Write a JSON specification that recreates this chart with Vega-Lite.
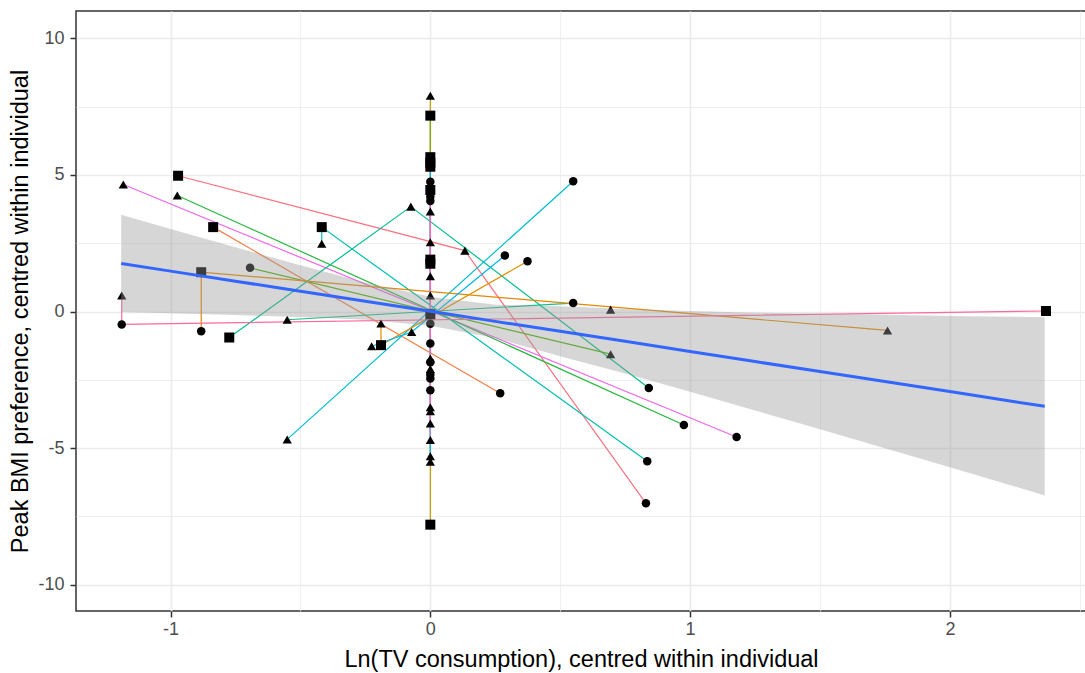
{
  "$schema": "https://vega.github.io/schema/vega-lite/v6.json",
  "width": 1010,
  "height": 600,
  "autosize": {"type": "none"},
  "padding": {"left": 76, "top": 11, "right": 0, "bottom": 62},
  "background": "white",
  "config": {
    "view": {"stroke": "#333333", "strokeWidth": 1.5},
    "font": "Liberation Sans",
    "axis": {
      "domain": false,
      "gridColor": "#EBEBEB",
      "tickColor": "#333333",
      "tickWidth": 1.5,
      "tickSize": 6,
      "labelFont": "Liberation Sans",
      "labelFontSize": 18,
      "labelColor": "#4D4D4D",
      "titleFont": "Liberation Sans",
      "titleFontSize": 23.5,
      "titleFontWeight": "normal",
      "titleColor": "#000000",
      "labelOverlap": false,
      "labelFlush": false,
      "labelBound": false
    }
  },
  "datasets": {
    "pts": [
      {"id": "A", "x": -0.971, "y": 4.97, "s": "square", "o": 1},
      {"id": "A", "x": 0.133, "y": 2.23, "s": "triangle", "o": 2},
      {"id": "A", "x": 0.83, "y": -7.02, "s": "circle", "o": 3},
      {"id": "B", "x": -1.182, "y": 4.65, "s": "triangle", "o": 1},
      {"id": "B", "x": 1.179, "y": -4.59, "s": "circle", "o": 2},
      {"id": "C", "x": -0.974, "y": 4.25, "s": "triangle", "o": 1},
      {"id": "C", "x": 0.976, "y": -4.15, "s": "circle", "o": 2},
      {"id": "D", "x": -0.836, "y": 3.09, "s": "square", "o": 1},
      {"id": "D", "x": 0.269, "y": -2.99, "s": "circle", "o": 2},
      {"id": "E", "x": -0.418, "y": 2.48, "s": "triangle", "o": 1},
      {"id": "E", "x": -0.418, "y": 3.09, "s": "square", "o": 2},
      {"id": "E", "x": 0.835, "y": -5.48, "s": "circle", "o": 3},
      {"id": "F", "x": -0.774, "y": -0.95, "s": "square", "o": 1},
      {"id": "F", "x": -0.075, "y": 3.84, "s": "triangle", "o": 2},
      {"id": "F", "x": 0.841, "y": -2.8, "s": "circle", "o": 3},
      {"id": "G", "x": -0.694, "y": 1.6, "s": "circle", "o": 1},
      {"id": "G", "x": 0.694, "y": -1.56, "s": "triangle", "o": 2},
      {"id": "H", "x": -0.551, "y": -4.68, "s": "triangle", "o": 1},
      {"id": "H", "x": 0.55, "y": 4.77, "s": "circle", "o": 2},
      {"id": "I", "x": -0.551, "y": -0.3, "s": "triangle", "o": 1},
      {"id": "I", "x": 0.55, "y": 0.31, "s": "circle", "o": 2},
      {"id": "J", "x": -0.882, "y": -0.72, "s": "circle", "o": 1},
      {"id": "J", "x": -0.882, "y": 1.44, "s": "square", "o": 2},
      {"id": "J", "x": 1.76, "y": -0.69, "s": "triangle", "o": 3},
      {"id": "K", "x": -1.188, "y": 0.59, "s": "triangle", "o": 1},
      {"id": "K", "x": -1.188, "y": -0.47, "s": "circle", "o": 2},
      {"id": "K", "x": 2.37, "y": 0.02, "s": "square", "o": 3},
      {"id": "L", "x": -0.19, "y": -0.44, "s": "triangle", "o": 1},
      {"id": "L", "x": -0.19, "y": -1.23, "s": "square", "o": 2},
      {"id": "L", "x": 0.374, "y": 1.84, "s": "circle", "o": 3},
      {"id": "M", "x": -0.226, "y": -1.27, "s": "triangle", "o": 1},
      {"id": "M", "x": -0.072, "y": -0.75, "s": "triangle", "o": 2},
      {"id": "M", "x": 0.287, "y": 2.05, "s": "circle", "o": 3},
      {"id": "N", "x": 0.694, "y": 0.07, "s": "triangle", "o": 1},
      {"id": "Z1", "x": 0, "y": 7.9, "s": "triangle", "o": 1},
      {"id": "Z1", "x": 0, "y": -7.8, "s": "square", "o": 2},
      {"id": "Z2", "x": 0, "y": 7.17, "s": "square", "o": 1},
      {"id": "Z2", "x": 0, "y": 5.65, "s": "square", "o": 2},
      {"id": "Z2", "x": 0, "y": 5.45, "s": "square", "o": 3},
      {"id": "Z2", "x": 0, "y": -5.3, "s": "triangle", "o": 4},
      {"id": "Z3", "x": 0, "y": 5.3, "s": "square", "o": 1},
      {"id": "Z3", "x": 0, "y": -5.5, "s": "triangle", "o": 2},
      {"id": "Z4", "x": 0, "y": 4.75, "s": "circle", "o": 1},
      {"id": "Z4", "x": 0, "y": 4.45, "s": "square", "o": 2},
      {"id": "Z4", "x": 0, "y": -4.7, "s": "triangle", "o": 3},
      {"id": "Z5", "x": 0, "y": 4.2, "s": "circle", "o": 1},
      {"id": "Z5", "x": 0, "y": 4.05, "s": "circle", "o": 2},
      {"id": "Z5", "x": 0, "y": 3.66, "s": "triangle", "o": 3},
      {"id": "Z5", "x": 0, "y": 2.54, "s": "triangle", "o": 4},
      {"id": "Z5", "x": 0, "y": 1.9, "s": "square", "o": 5},
      {"id": "Z5", "x": 0, "y": 1.75, "s": "square", "o": 6},
      {"id": "Z5", "x": 0, "y": 1.29, "s": "triangle", "o": 7},
      {"id": "Z5", "x": 0, "y": 0.59, "s": "triangle", "o": 8},
      {"id": "Z5", "x": 0, "y": -0.1, "s": "square", "o": 9},
      {"id": "Z5", "x": 0, "y": -0.45, "s": "circle", "o": 10},
      {"id": "Z5", "x": 0, "y": -1.17, "s": "circle", "o": 11},
      {"id": "Z5", "x": 0, "y": -1.72, "s": "triangle", "o": 12},
      {"id": "Z5", "x": 0, "y": -1.86, "s": "circle", "o": 13},
      {"id": "Z5", "x": 0, "y": -2.1, "s": "triangle", "o": 14},
      {"id": "Z5", "x": 0, "y": -2.3, "s": "circle", "o": 15},
      {"id": "Z5", "x": 0, "y": -2.45, "s": "circle", "o": 16},
      {"id": "Z5", "x": 0, "y": -2.88, "s": "circle", "o": 17},
      {"id": "Z5", "x": 0, "y": -3.5, "s": "triangle", "o": 18},
      {"id": "Z5", "x": 0, "y": -3.65, "s": "triangle", "o": 19},
      {"id": "Z5", "x": 0, "y": -4.1, "s": "triangle", "o": 20}
    ],
    "band": [
      {"x": -1.19, "fit": 1.76, "lo": -0.02, "hi": 3.54},
      {"x": -1.0, "fit": 1.48, "lo": -0.06, "hi": 3.02},
      {"x": -0.75, "fit": 1.11, "lo": -0.13, "hi": 2.35},
      {"x": -0.5, "fit": 0.745, "lo": -0.2, "hi": 1.69},
      {"x": -0.25, "fit": 0.38, "lo": -0.3, "hi": 1.06},
      {"x": 0, "fit": 0.01, "lo": -0.52, "hi": 0.54},
      {"x": 0.25, "fit": -0.36, "lo": -0.97, "hi": 0.25},
      {"x": 0.5, "fit": -0.725, "lo": -1.64, "hi": 0.19},
      {"x": 0.75, "fit": -1.09, "lo": -2.27, "hi": 0.09},
      {"x": 1.0, "fit": -1.46, "lo": -2.94, "hi": 0.02},
      {"x": 1.25, "fit": -1.83, "lo": -3.62, "hi": -0.04},
      {"x": 1.5, "fit": -2.195, "lo": -4.31, "hi": -0.08},
      {"x": 1.75, "fit": -2.56, "lo": -5.0, "hi": -0.12},
      {"x": 2.0, "fit": -2.93, "lo": -5.7, "hi": -0.16},
      {"x": 2.25, "fit": -3.3, "lo": -6.4, "hi": -0.19},
      {"x": 2.365, "fit": -3.47, "lo": -6.73, "hi": -0.21}
    ]
  },
  "layer": [
    {
      "data": {"name": "pts"},
      "mark": {"type": "line", "strokeWidth": 1.2},
      "encoding": {
        "x": {
          "field": "x", "type": "quantitative",
          "scale": {"domain": [-1.364, 2.524], "nice": false, "zero": false},
          "axis": {
            "title": "Ln(TV consumption), centred within individual",
            "values": [-1, -0.5, 0, 0.5, 1, 1.5, 2, 2.5],
            "labelExpr": "datum.value % 1 === 0 ? toString(datum.value) : ''",
            "gridWidth": {"condition": {"test": "datum.value % 1 !== 0", "value": 0.8}, "value": 1.6},
            "tickOpacity": {"condition": {"test": "datum.value % 1 !== 0", "value": 0}, "value": 1},
            "labelPadding": 3,
            "titlePadding": 9
          }
        },
        "y": {
          "field": "y", "type": "quantitative",
          "scale": {"domain": [-10.96, 11.0], "nice": false, "zero": false},
          "axis": {
            "title": "Peak BMI preference, centred within individual",
            "values": [-10, -7.5, -5, -2.5, 0, 2.5, 5, 7.5, 10],
            "labelExpr": "datum.value % 5 === 0 ? toString(datum.value) : ''",
            "gridWidth": {"condition": {"test": "datum.value % 5 !== 0", "value": 0.8}, "value": 1.6},
            "tickOpacity": {"condition": {"test": "datum.value % 5 !== 0", "value": 0}, "value": 1},
            "labelPadding": 6,
            "titlePadding": 5
          }
        },
        "color": {
          "field": "id", "type": "nominal", "legend": null,
          "scale": {
            "domain": ["A", "B", "C", "D", "E", "F", "G", "H", "I", "J", "K", "L", "M", "N", "Z1", "Z2", "Z3", "Z4", "Z5"],
            "range": ["#FC717F", "#F066EA", "#25B73C", "#F47F45", "#00C0AF", "#00C08D", "#4CB400", "#00BDD0", "#14BE8A", "#E58700", "#FF6A9A", "#E38E00", "#00B4EF", "#E58700", "#C49A00", "#7CAE00", "#00B0F6", "#A58AFF", "#FF66C4"]
          }
        },
        "order": {"field": "o", "type": "quantitative"}
      }
    },
    {
      "data": {"name": "pts"},
      "mark": {"type": "point", "filled": true, "opacity": 1, "color": "#000000"},
      "encoding": {
        "x": {"field": "x", "type": "quantitative"},
        "y": {"field": "y", "type": "quantitative"},
        "shape": {
          "field": "s", "type": "nominal", "legend": null,
          "scale": {"domain": ["circle", "triangle", "square"], "range": ["circle", "triangle-up", "square"]}
        },
        "size": {
          "field": "s", "type": "nominal", "legend": null,
          "scale": {"domain": ["circle", "triangle", "square"], "range": [72, 100, 66]}
        }
      }
    },
    {
      "data": {"name": "band"},
      "mark": {"type": "area", "color": "#999999", "opacity": 0.4},
      "encoding": {
        "x": {"field": "x", "type": "quantitative"},
        "y": {"field": "lo", "type": "quantitative"},
        "y2": {"field": "hi"}
      }
    },
    {
      "data": {"name": "band"},
      "mark": {"type": "line", "color": "#3366FF", "strokeWidth": 3},
      "encoding": {
        "x": {"field": "x", "type": "quantitative"},
        "y": {"field": "fit", "type": "quantitative"}
      }
    }
  ]
}
